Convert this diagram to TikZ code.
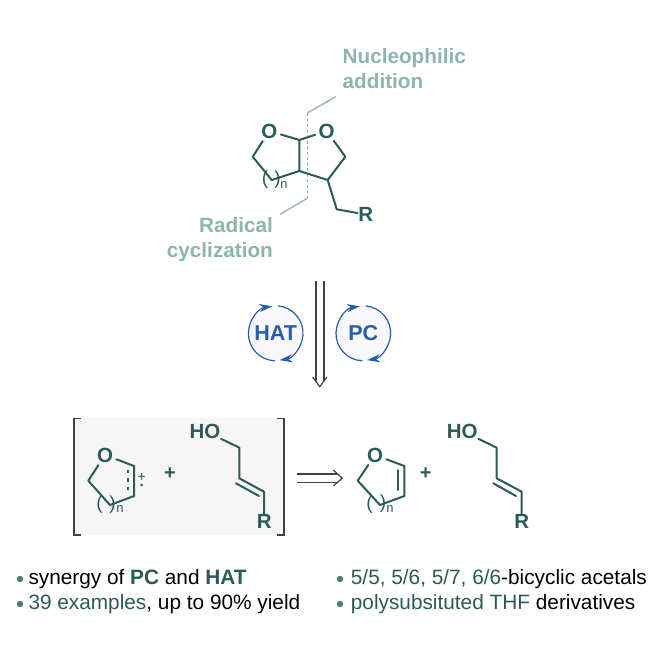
\documentclass[tikz,border=0pt]{standalone}
\usepackage{fontspec}
\setmainfont{Liberation Sans}
\usetikzlibrary{arrows.meta}
\definecolor{bondcol}{HTML}{2D5A55}
\definecolor{tagcol}{HTML}{8DB5AD}
\definecolor{cyclecol}{HTML}{2B5CA8}
\definecolor{panelcol}{HTML}{F6F6F6}
\definecolor{discol}{HTML}{F8F8FA}
\definecolor{framecol}{HTML}{3C4443}
\definecolor{dotcol}{HTML}{4F7D76}
\tikzset{
  x=1pt, y=-1pt,
  bond/.style={draw=bondcol, line width=2pt, line cap=round, line join=round},
  atom/.style={text=bondcol, font=\fontsize{20.5}{22}\selectfont\bfseries, inner sep=0.5pt},
  ringO/.style={text=bondcol, font=\fontsize{20.5}{22}\selectfont\bfseries, inner sep=0.8pt, circle},
  tag/.style={text=tagcol, font=\fontsize{20.7}{25}\selectfont\bfseries, inner sep=0pt},
  tagline/.style={draw=tagcol, line width=1.3pt},
  tagdash/.style={draw=tagcol, line width=1.3pt, dash pattern=on 3pt off 2.5pt},
  plusmark/.style={text=bondcol, font=\fontsize{20}{20}\selectfont\bfseries, inner sep=0pt},
  sub/.style={text=bondcol, font=\fontsize{13}{13}\selectfont, inner sep=0pt},
  brace/.style={text=bondcol, font=\fontsize{19}{19}\selectfont, inner sep=0pt},
  cycle disc/.style={circle, minimum size=54.6pt, inner sep=0pt, fill=discol,
    text=cyclecol, font=\fontsize{21.5}{22}\selectfont\bfseries},
  cycle arc/.style={draw=cyclecol, line width=1.2pt, -{Stealth[length=13pt,width=8pt]}},
  retro/.style={draw=framecol, line width=1.2pt},
  bullet/.style={circle, fill=dotcol, minimum size=6.5pt, inner sep=0pt},
  item/.style={anchor=base west, inner sep=0pt, font=\fontsize{20.8}{22}\selectfont},
}
\newcommand{\hl}[1]{\textcolor{bondcol}{#1}}
\begin{document}
\begin{tikzpicture}
\useasboundingbox[fill=white] (0,0) rectangle (664,664);

% Bicyclic acetal product
\node[ringO] (o1) at (269.3,131) {O};
\node[ringO] (o2) at (326.7,131) {O};
\node[atom] (r1) at (365.7,214.5) {R};
\coordinate (ca) at (299.3,140);
\coordinate (cj) at (299.3,171);
\coordinate (cr) at (327.7,180);
\coordinate (ct) at (345.3,156.7);
\coordinate (cm) at (336.7,209.3);
\coordinate (cl) at (252.7,156.7);
\coordinate (cb) at (271.7,180);
\coordinate (dashtop) at (307.3,113);
\coordinate (dashbot) at (307.3,198.3);
\coordinate (tagtop) at (335.7,96.7);
\coordinate (tagbot) at (280,214.3);
\draw[tagdash] (dashtop) -- (dashbot);
\draw[tagline] (dashtop) -- (tagtop);
\draw[tagline] (dashbot) -- (tagbot);
\draw[bond] (o1) -- (ca) -- (o2);
\draw[bond] (ca) -- (cj) -- (cr) -- (ct) -- (o2);
\draw[bond] (o1) -- (cl) -- (cb) -- (cj);
\draw[bond] (cr) -- (cm) -- (r1);
\node[brace] (p1) at (265,180) {(};
\node[brace] (p2) at (277.5,180) {)};
\node[sub] (n1) at (284,184.5) {n};
\node[tag, anchor=base west] (nuc) at (342.5,63.5) {Nucleophilic};
\node[tag, anchor=base west] (add) at (342.5,88.5) {addition};
\node[tag, anchor=base east] (rad) at (273,232.5) {Radical};
\node[tag, anchor=base east] (cyc) at (273,257.5) {cyclization};

% Vertical retrosynthetic arrow
\coordinate (va) at (316,280.7);
\coordinate (vb) at (324,280.7);
\coordinate (vc) at (316,381);
\coordinate (vd) at (324,381);
\coordinate (vl) at (312.7,377);
\coordinate (vt) at (319.8,386.7);
\coordinate (vr) at (327,377);
\draw[retro] (va) -- (vc);
\draw[retro] (vb) -- (vd);
\draw[retro] (vl) -- (vt) -- (vr);

% Catalytic cycles
\node[cycle disc] (hat) at (275.7,333.3) {HAT};
\node[cycle disc] (pc) at (363.3,333.3) {PC};
\draw[cycle arc] (hat.85) arc[start angle=85, end angle=-82, radius=27.3pt];
\draw[cycle arc] (hat.-92) arc[start angle=-92, end angle=-263, radius=27.3pt];
\draw[cycle arc] (pc.85) arc[start angle=85, end angle=-82, radius=27.3pt];
\draw[cycle arc] (pc.-92) arc[start angle=-92, end angle=-263, radius=27.3pt];

% Bracketed intermediates
\fill[panelcol] (74,418.3) rectangle (284,535);
\coordinate (bl1) at (81,418.3);
\coordinate (bl2) at (74,418.3);
\coordinate (bl3) at (74,535);
\coordinate (bl4) at (81,535);
\coordinate (br1) at (277,418.3);
\coordinate (br2) at (284,418.3);
\coordinate (br3) at (284,535);
\coordinate (br4) at (277,535);
\draw[retro] (bl1) -- (bl2) -- (bl3) -- (bl4);
\draw[retro] (br1) -- (br2) -- (br3) -- (br4);

% Radical cation ring
\node[ringO] (o3) at (105,455) {O};
\coordinate (i1) at (134,466);
\coordinate (i2) at (134,496);
\coordinate (i3) at (110,505);
\coordinate (i4) at (88.3,480.7);
\coordinate (i5) at (128.3,469.5);
\coordinate (i6) at (128.3,490.5);
\draw[bond] (o3) -- (i1) -- (i2) -- (i3) -- (i4) -- (o3);
\draw[bond, line cap=butt, dash pattern=on 3.5pt off 5pt] (i5) -- (i6);
\node[sub, font=\fontsize{14}{14}\selectfont] (chg) at (141.7,477) {+};
\fill[bondcol] (141.7,485) circle (1.5pt);
\node[brace] (p3) at (99.5,505) {(};
\node[brace] (p4) at (112.5,505) {)};
\node[sub] (n3) at (120,508.5) {n};
\node[plusmark] (plus1) at (170,474) {+};

% Allylic alcohol in the bracket
\node[atom] (ho1) at (205,431) {HO};
\node[atom] (r2) at (264.3,521.7) {R};
\coordinate (a1) at (239.3,447.7);
\coordinate (a2) at (239.3,478.3);
\coordinate (a3) at (264,491.7);
\coordinate (a4) at (236,483.3);
\coordinate (a5) at (259,496);
\draw[bond] (ho1) -- (a1) -- (a2) -- (a3) -- (r2);
\draw[bond] (a4) -- (a5);

% Horizontal retrosynthetic arrow
\coordinate (ha) at (297.3,474);
\coordinate (hb) at (297.3,482.3);
\coordinate (hc) at (338,474);
\coordinate (hd) at (338,482.3);
\coordinate (he) at (333.3,470);
\coordinate (hf) at (342.3,478.2);
\coordinate (hg) at (333.3,486);
\draw[retro] (ha) -- (hc);
\draw[retro] (hb) -- (hd);
\draw[retro] (he) -- (hf) -- (hg);

% Dihydrofuran ring
\node[ringO] (o4) at (375,455) {O};
\coordinate (d1) at (404.3,466);
\coordinate (d2) at (404.3,496);
\coordinate (d3) at (380,505);
\coordinate (d4) at (357.7,480.7);
\coordinate (d5) at (398.3,470);
\coordinate (d6) at (398.3,490);
\draw[bond] (o4) -- (d1) -- (d2) -- (d3) -- (d4) -- (o4);
\draw[bond] (d5) -- (d6);
\node[brace] (p5) at (369.5,505) {(};
\node[brace] (p6) at (383,504) {)};
\node[sub] (n4) at (390,508.5) {n};
\node[plusmark] (plus2) at (425.7,474) {+};

% Free allylic alcohol
\node[atom] (ho2) at (462.3,431) {HO};
\node[atom] (r3) at (521.7,521.7) {R};
\coordinate (b1) at (496.7,447.7);
\coordinate (b2) at (496.7,478.3);
\coordinate (b3) at (521.7,491.7);
\coordinate (b4) at (493.3,483.3);
\coordinate (b5) at (516,496);
\draw[bond] (ho2) -- (b1) -- (b2) -- (b3) -- (r3);
\draw[bond] (b4) -- (b5);

% Highlights
\node[bullet] (d-a) at (20,579) {};
\node[bullet] (d-b) at (20,604) {};
\node[bullet] (d-c) at (340,579) {};
\node[bullet] (d-d) at (340,604) {};
\node[item] (t-a) at (28.3,584.3) {synergy of \hl{\textbf{PC}} and \hl{\textbf{HAT}}};
\node[item] (t-b) at (28.3,609.3) {\hl{39 examples}, up to 90\% yield};
\node[item] (t-c) at (350.7,584.3) {\hl{5/5, 5/6, 5/7, 6/6}-bicyclic acetals};
\node[item] (t-d) at (350.7,609.3) {\hl{polysubsituted THF} derivatives};
\end{tikzpicture}
\end{document}
